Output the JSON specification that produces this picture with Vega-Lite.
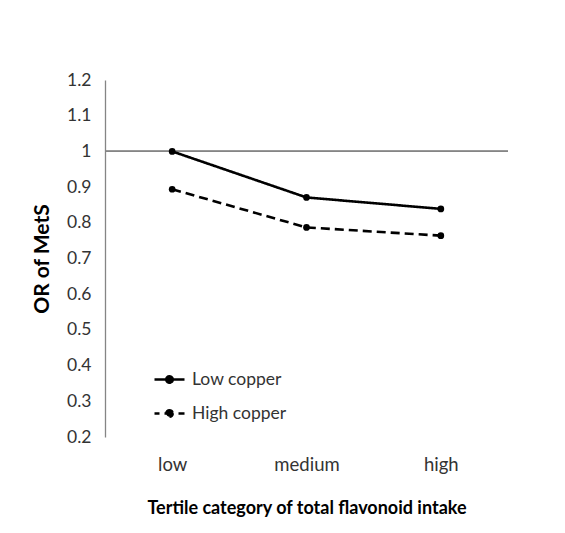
{
  "$schema": "https://vega.github.io/schema/vega-lite/v6.json",
  "autosize": {"type": "none"},
  "width": 403,
  "height": 357,
  "padding": {"left": 105, "top": 80, "right": 57, "bottom": 96},
  "background": "white",
  "config": {
    "view": {"stroke": null},
    "font": "Lato",
    "axis": {"grid": false, "ticks": false, "tickSize": 0, "labelFont": "Lato", "labelColor": "#333333", "titleFont": "Lato", "titleColor": "#000000", "labelOverlap": false}
  },
  "data": {
    "values": [
      {"tertile": "low", "group": "Low copper", "or": 1.0},
      {"tertile": "medium", "group": "Low copper", "or": 0.871},
      {"tertile": "high", "group": "Low copper", "or": 0.839},
      {"tertile": "low", "group": "High copper", "or": 0.894},
      {"tertile": "medium", "group": "High copper", "or": 0.787},
      {"tertile": "high", "group": "High copper", "or": 0.764}
    ]
  },
  "layer": [
    {
      "mark": {"type": "rule", "color": "#858585", "strokeWidth": 1.3},
      "encoding": {
        "y": {
          "datum": 1, "type": "quantitative",
          "scale": {"domain": [0.2, 1.2], "nice": false, "zero": false},
          "axis": {"values": [0.2, 0.3, 0.4, 0.5, 0.6, 0.7, 0.8, 0.9, 1, 1.1, 1.2], "format": "~g", "labelOverlap": false, "domainColor": "#858585", "domainWidth": 1.3, "labelFontSize": 17.5, "labelPadding": 14, "title": "OR of MetS", "titleFontSize": 21, "titleFontWeight": "bold", "titlePadding": 14}
        }
      }
    },
    {
      "mark": {"type": "line", "color": "black", "strokeWidth": 2.6, "point": {"filled": true, "color": "black", "size": 45}},
      "encoding": {
        "x": {
          "field": "tertile", "type": "ordinal", "sort": ["low", "medium", "high"],
          "scale": {"type": "point", "padding": 0.5},
          "axis": {"domain": false, "labelAngle": 0, "labelFontSize": 18.5, "labelPadding": 18, "title": "Tertile category of total flavonoid intake", "titleFontSize": 18, "titleFontWeight": "bold", "titlePadding": 26}
        },
        "y": {
          "field": "or", "type": "quantitative",
          "scale": {"domain": [0.2, 1.2], "nice": false, "zero": false},
          "axis": {"values": [0.2, 0.3, 0.4, 0.5, 0.6, 0.7, 0.8, 0.9, 1, 1.1, 1.2], "format": "~g", "labelOverlap": false, "domainColor": "#858585", "domainWidth": 1.3, "labelFontSize": 17.5, "labelPadding": 14, "title": "OR of MetS", "titleFontSize": 21, "titleFontWeight": "bold", "titlePadding": 14}
        },
        "strokeDash": {
          "field": "group", "type": "nominal",
          "scale": {"domain": ["Low copper", "High copper"], "range": [[1, 0], [9, 5]]},
          "legend": {
            "title": null, "orient": "none", "legendX": 48, "legendY": 283,
            "symbolType": "M-1,0H1M0.22,0A0.22,0.22,0,1,1,-0.22,0A0.22,0.22,0,1,1,0.22,0Z",
            "symbolSize": 900, "symbolStrokeColor": "black", "symbolFillColor": "black", "symbolStrokeWidth": 2.4,
            "symbolDashOffset": 4,
            "labelFontSize": 17.5, "labelColor": "#333333", "labelOffset": 6, "rowPadding": 9,
            "encode": {"symbols": {
              "update": {"stroke": {"value": "black"}, "strokeWidth": {"value": 2.4}, "fill": {"value": "black"}, "opacity": {"value": 1}, "strokeDashOffset": {"value": 4}}
            }}
          }
        }
      }
    }
  ]
}
